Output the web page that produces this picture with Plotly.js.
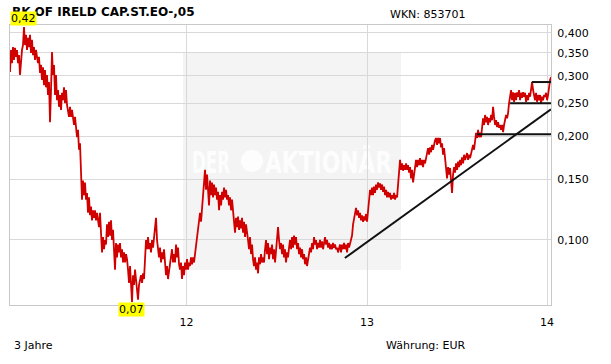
<!DOCTYPE html>
<html>
<head>
<meta charset="utf-8">
<script src="https://cdn.plot.ly/plotly-3.0.1.min.js"></script>
<style>html,body{margin:0;padding:0;background:#fff;}#chart{width:611px;height:364px;}</style>
</head>
<body>
<div id="chart"></div>
<script>
// ---- data ----
const seriesName = 'BK OF IRELD CAP.ST.EO-,05';
const seriesStart = '2011-01-08';
const sampleStepDays = 2.028;
const closeValues = [
0.308,0.357,0.327,0.364,0.334,0.362,0.341,0.357,0.327,0.345,
0.302,0.334,0.357,0.369,0.416,0.369,0.395,0.357,0.387,0.364,
0.395,0.350,0.382,0.345,0.364,0.334,0.357,0.341,0.327,0.341,
0.306,0.323,0.292,0.318,0.282,0.312,0.278,0.302,0.264,0.288,
0.220,0.273,0.352,0.302,0.323,0.264,0.302,0.255,0.273,0.244,
0.264,0.239,0.268,0.255,0.278,0.250,0.273,0.247,0.239,0.228,
0.244,0.228,0.239,0.223,0.216,0.228,0.209,0.199,0.209,0.183,
0.191,0.155,0.131,0.149,0.135,0.147,0.131,0.137,0.120,0.133,
0.118,0.125,0.114,0.122,0.116,0.122,0.114,0.120,0.114,0.109,
0.120,0.105,0.092,0.102,0.094,0.100,0.097,0.111,0.102,0.113,
0.103,0.114,0.100,0.107,0.094,0.082,0.098,0.089,0.097,0.092,
0.098,0.089,0.094,0.086,0.092,0.086,0.091,0.088,0.082,0.075,
0.084,0.073,0.066,0.079,0.074,0.082,0.075,0.072,0.067,0.074,
0.077,0.079,0.075,0.080,0.077,0.085,0.100,0.094,0.102,0.094,
0.098,0.092,0.100,0.095,0.102,0.107,0.116,0.100,0.094,0.089,
0.095,0.086,0.092,0.088,0.094,0.085,0.079,0.084,0.077,0.081,
0.085,0.088,0.094,0.086,0.091,0.086,0.097,0.089,0.095,0.085,
0.082,0.086,0.077,0.084,0.079,0.086,0.082,0.088,0.082,0.086,
0.084,0.089,0.085,0.089,0.086,0.091,0.097,0.102,0.109,0.114,
0.120,0.113,0.122,0.131,0.145,0.160,0.140,0.155,0.140,0.126,
0.149,0.135,0.147,0.133,0.145,0.135,0.142,0.131,0.138,0.122,
0.135,0.126,0.138,0.131,0.142,0.133,0.140,0.131,0.135,0.126,
0.133,0.122,0.131,0.120,0.113,0.105,0.116,0.109,0.117,0.107,
0.114,0.108,0.116,0.105,0.113,0.102,0.111,0.103,0.100,0.094,
0.102,0.091,0.097,0.088,0.084,0.089,0.082,0.086,0.080,0.089,
0.085,0.091,0.086,0.089,0.086,0.094,0.100,0.091,0.098,0.088,
0.095,0.091,0.097,0.088,0.094,0.086,0.092,0.097,0.109,0.100,
0.094,0.098,0.091,0.097,0.089,0.094,0.086,0.092,0.089,0.095,
0.100,0.094,0.102,0.095,0.103,0.097,0.102,0.094,0.098,0.091,
0.095,0.089,0.094,0.088,0.091,0.085,0.089,0.084,0.088,0.092,
0.095,0.092,0.098,0.094,0.102,0.097,0.100,0.094,0.098,0.095,
0.100,0.095,0.099,0.094,0.098,0.102,0.097,0.100,0.095,0.098,
0.094,0.097,0.094,0.098,0.095,0.097,0.094,0.095,0.092,0.095,
0.097,0.092,0.097,0.094,0.098,0.094,0.097,0.092,0.098,0.095,
0.098,0.100,0.103,0.111,0.116,0.120,0.124,0.118,0.122,0.116,
0.120,0.114,0.118,0.113,0.117,0.114,0.119,0.113,0.122,0.133,
0.140,0.135,0.142,0.135,0.143,0.137,0.145,0.140,0.147,0.142,
0.146,0.140,0.145,0.138,0.143,0.135,0.140,0.133,0.138,0.133,
0.137,0.131,0.135,0.132,0.137,0.131,0.135,0.133,0.145,0.160,
0.171,0.160,0.167,0.159,0.165,0.160,0.167,0.160,0.165,0.157,
0.163,0.151,0.160,0.147,0.157,0.165,0.171,0.163,0.171,0.165,
0.173,0.165,0.171,0.163,0.171,0.167,0.174,0.179,0.185,0.177,
0.186,0.180,0.189,0.183,0.191,0.195,0.198,0.189,0.198,0.191,
0.198,0.186,0.191,0.177,0.185,0.171,0.160,0.151,0.163,0.155,
0.162,0.149,0.137,0.155,0.163,0.157,0.167,0.160,0.169,0.163,
0.171,0.165,0.174,0.167,0.177,0.171,0.174,0.179,0.171,0.177,
0.173,0.179,0.183,0.189,0.183,0.195,0.205,0.198,0.209,0.199,
0.205,0.199,0.213,0.226,0.216,0.231,0.220,0.228,0.216,0.226,
0.220,0.231,0.223,0.244,0.228,0.216,0.223,0.213,0.220,0.212,
0.216,0.209,0.216,0.206,0.216,0.223,0.231,0.226,0.234,0.250,
0.264,0.273,0.255,0.269,0.252,0.268,0.255,0.269,0.261,0.273,
0.255,0.268,0.259,0.269,0.261,0.268,0.252,0.264,0.255,0.268,
0.261,0.276,0.288,0.273,0.264,0.255,0.268,0.252,0.264,0.255,
0.264,0.250,0.261,0.255,0.264,0.261,0.268,0.255,0.264,0.282,
0.292,0.298
];
const trendDates = ['2012-11-17', '2014-01-09'];
const trendValues = [0.0886, 0.240];
const levelValues = [0.203, 0.250, 0.288];
const levelStarts = ['2013-08-12', '2013-10-18', '2013-12-01'];
const levelEnd = '2014-01-09';
const xRange = ['2011-01-08', '2014-01-09'];
const yRange = [0.0647, 0.422];
const xTickVals = ['2012-01-01', '2013-01-01', '2014-01-01'];
const xTickText = ['12', '13', '14'];
const yTickVals = [0.1, 0.15, 0.2, 0.25, 0.3, 0.35, 0.4];
const yTickText = ['0,100', '0,150', '0,200', '0,250', '0,300', '0,350', '0,400'];
const watermarkWords = ['DER', 'AKTIONÄR'];

// ---- build ----
const traces = [];
traces.push({
  type: 'scatter', mode: 'lines', name: seriesName,
  x0: seriesStart, dx: sampleStepDays * 86400000,
  y: closeValues,
  line: {color: '#d00000', width: 1.8},
  hoverinfo: 'skip'
});
traces.push({
  type: 'scatter', mode: 'lines', x: trendDates, y: trendValues,
  line: {color: '#111', width: 2}, hoverinfo: 'skip'
});
levelValues.forEach((v, i) => {
  traces.push({
    type: 'scatter', mode: 'lines', x: [levelStarts[i], levelEnd], y: [v, v],
    line: {color: '#111', width: 2}, hoverinfo: 'skip'
  });
});

let iMax = 0, iMin = 0;
closeValues.forEach((v, i) => { if (v > closeValues[iMax]) iMax = i; if (v < closeValues[iMin]) iMin = i; });
const startMs = new Date(seriesStart + 'T00:00:00Z').getTime();
const dateAt = i => new Date(startMs + i * sampleStepDays * 86400000).toISOString().slice(0, 10);
const fmt = v => v.toFixed(2).replace('.', ',');
const txtFont = {family: 'DejaVu Sans', size: 11, color: '#000'};

const annotations = [
  {x: dateAt(iMax), y: Math.log10(closeValues[iMax]), xref: 'x', yref: 'y', text: fmt(closeValues[iMax]),
   showarrow: false, yanchor: 'bottom', yshift: 1, bgcolor: '#ffff00', borderpad: 0, font: txtFont},
  {x: dateAt(iMin), y: Math.log10(closeValues[iMin]), xref: 'x', yref: 'y', text: fmt(closeValues[iMin]),
   showarrow: false, yanchor: 'top', yshift: 0, bgcolor: '#ffff00', borderpad: 0, font: txtFont},
  {x: 0.8466, y: 1.039, xref: 'paper', yref: 'paper', text: 'WKN: 853701', showarrow: false,
   xanchor: 'right', yanchor: 'middle', font: txtFont},
  {x: 0.0037, y: -0.146, xref: 'paper', yref: 'paper', text: '3 Jahre', showarrow: false,
   xanchor: 'left', yanchor: 'middle', font: txtFont},
  {x: 0.8466, y: -0.146, xref: 'paper', yref: 'paper', text: 'Währung: EUR', showarrow: false,
   xanchor: 'right', yanchor: 'middle', font: txtFont}
];

const wmFont = {family: 'DejaVu Sans', size: 30, color: '#fdfdfd', weight: 'bold'};
const shapes = [
  {type: 'rect', xref: 'paper', yref: 'paper', x0: 0.3198, x1: 0.7227, y0: 0.125, y1: 0.9,
   fillcolor: '#f4f4f4', line: {width: 0}, layer: 'below'},
  {type: 'rect', xref: 'paper', yref: 'paper', x0: 0.33, x1: 0.413, y0: 0.45, y1: 0.58,
   fillcolor: 'rgba(0,0,0,0)', line: {width: 0}, layer: 'below',
   label: {text: watermarkWords[0], font: wmFont, textposition: 'middle center'}},
  {type: 'circle', xref: 'paper', yref: 'paper', x0: 0.4270, x1: 0.4677, y0: 0.475, y1: 0.5536,
   fillcolor: '#fdfdfd', line: {width: 0}, layer: 'below'},
  {type: 'rect', xref: 'paper', yref: 'paper', x0: 0.50, x1: 0.6774, y0: 0.45, y1: 0.58,
   fillcolor: 'rgba(0,0,0,0)', line: {width: 0}, layer: 'below',
   label: {text: watermarkWords[1], font: wmFont, textposition: 'middle center'}}
];

const layout = {
  width: 611, height: 364,
  margin: {l: 10, r: 60, t: 25, b: 59, pad: 0},
  paper_bgcolor: '#ffffff', plot_bgcolor: 'rgba(0,0,0,0)',
  showlegend: false,
  font: txtFont,
  title: {text: '<b>' + seriesName + '</b>', x: 12 / 611, xanchor: 'left', xref: 'container',
          y: 1 - 12 / 364, yanchor: 'middle', yref: 'container',
          font: {family: 'DejaVu Sans', size: 12, color: '#000'}},
  xaxis: {type: 'date', range: xRange, tickvals: xTickVals, ticktext: xTickText,
          showgrid: true, gridcolor: '#d9d9d9', gridwidth: 1, zeroline: false,
          showline: true, linecolor: '#c8c8c8', linewidth: 1, mirror: true,
          ticks: '', ticklabelstandoff: 7, tickfont: {size: 11}},
  yaxis: {type: 'log', range: yRange.map(Math.log10), side: 'right',
          tickvals: yTickVals, ticktext: yTickText,
          showgrid: true, gridcolor: '#d9d9d9', gridwidth: 1, zeroline: false,
          showline: true, linecolor: '#c8c8c8', linewidth: 1, mirror: true,
          ticks: '', ticklabelstandoff: 3, tickfont: {size: 11}},
  shapes: shapes,
  annotations: annotations
};

// condensed look for the watermark words (target widths in px)
const wmWidths = {'DER': 38, 'AKTIONÄR': 127};
Plotly.newPlot('chart', traces, layout, {staticPlot: true, displayModeBar: false}).then(() => {
  document.querySelectorAll('#chart svg text').forEach(t => {
    const w = wmWidths[t.textContent];
    if (w) { t.setAttribute('textLength', w); t.setAttribute('lengthAdjust', 'spacingAndGlyphs'); }
  });
});
</script>
</body>
</html>
